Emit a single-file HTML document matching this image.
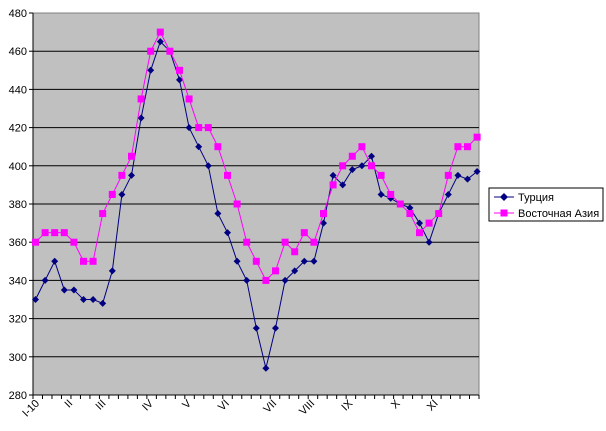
<!DOCTYPE html>
<html><head><meta charset="utf-8"><style>
body{margin:0;background:#fff;width:606px;height:431px;overflow:hidden}
svg{display:block;font-family:"Liberation Sans",Arial,sans-serif}
</style></head><body>
<svg id="s" width="606" height="431" xmlns="http://www.w3.org/2000/svg">
<rect x="33" y="13" width="446" height="382" fill="#c0c0c0" stroke="#808080"/>
<g id="g"></g>
<rect x="489" y="188" width="114" height="33" fill="#fff" stroke="#000"/>
<line x1="494" y1="197" x2="514" y2="197" stroke="#000080"/>
<path d="M504 193 L508 197 L504 201 L500 197Z" fill="#000080"/>
<text x="518" y="201" font-size="11">Турция</text>
<line x1="494" y1="213" x2="514" y2="213" stroke="#ff00ff"/>
<rect x="500.5" y="209.5" width="7" height="7" fill="#ff00ff"/>
<text x="518" y="217" font-size="11">Восточная Азия</text>
</svg>
<script>
var g=document.getElementById('g'),h='';
function Y(v){return 395-(v-280)*1.91}
for(var v=280;v<=480;v+=20){var y=Y(v);if(v>280&&v<480)h+='<line x1="33" y1="'+y+'" x2="479" y2="'+y+'" stroke="#000"/>';
h+='<line x1="29" y1="'+y+'" x2="33" y2="'+y+'" stroke="#000"/><text x="27" y="'+(y+4)+'" font-size="11" text-anchor="end">'+v+'</text>';}
h+='<line x1="33" y1="13" x2="33" y2="395" stroke="#000"/><line x1="33" y1="395" x2="479" y2="395" stroke="#000"/>';
var n=47,w=446/n;
for(var i=0;i<=n;i++){var x=33+i*w;h+='<line x1="'+x+'" y1="395" x2="'+x+'" y2="399" stroke="#000"/>';}
var labs=[[0,'I-10'],[3.5,'II'],[7,'III'],[12,'IV'],[16,'V'],[20,'VI'],[25,'VII'],[29,'VIII'],[33,'IX'],[38,'X'],[42,'XI']];
labs.forEach(function(l){var x=33+l[0]*w+7,y=404;h+='<text x="'+x+'" y="'+y+'" font-size="11" text-anchor="end" transform="rotate(-45 '+x+' '+y+')">'+l[1]+'</text>';});
var t=[330,340,350,335,335,330,330,328,345,385,395,425,450,465,460,445,420,410,400,375,365,350,340,315,294,315,340,345,350,350,370,395,390,398,400,405,385,383,380,378,370,360,375,385,395,393,397];
var p=[360,365,365,365,360,350,350,375,385,395,405,435,460,470,460,450,435,420,420,410,395,380,360,350,340,345,360,355,365,360,375,390,400,405,410,400,395,385,380,375,365,370,375,395,410,410,415];
function X(i){return 35.5+i*9.6}
function line(d,c){return '<polyline fill="none" stroke="'+c+'" stroke-width="1" points="'+d.map(function(v,i){return X(i)+','+Y(v)}).join(' ')+'"/>';}
h+=line(t,'#000080');
t.forEach(function(v,i){var x=X(i),y=Y(v);h+='<path d="M'+x+' '+(y-3.5)+'L'+(x+3.5)+' '+y+'L'+x+' '+(y+3.5)+'L'+(x-3.5)+' '+y+'Z" fill="#000080"/>';});
h+=line(p,'#ff00ff');
p.forEach(function(v,i){h+='<rect x="'+(X(i)-3.5)+'" y="'+(Y(v)-3.5)+'" width="7" height="7" fill="#ff00ff"/>';});
g.innerHTML=h;
</script>
</body></html>
